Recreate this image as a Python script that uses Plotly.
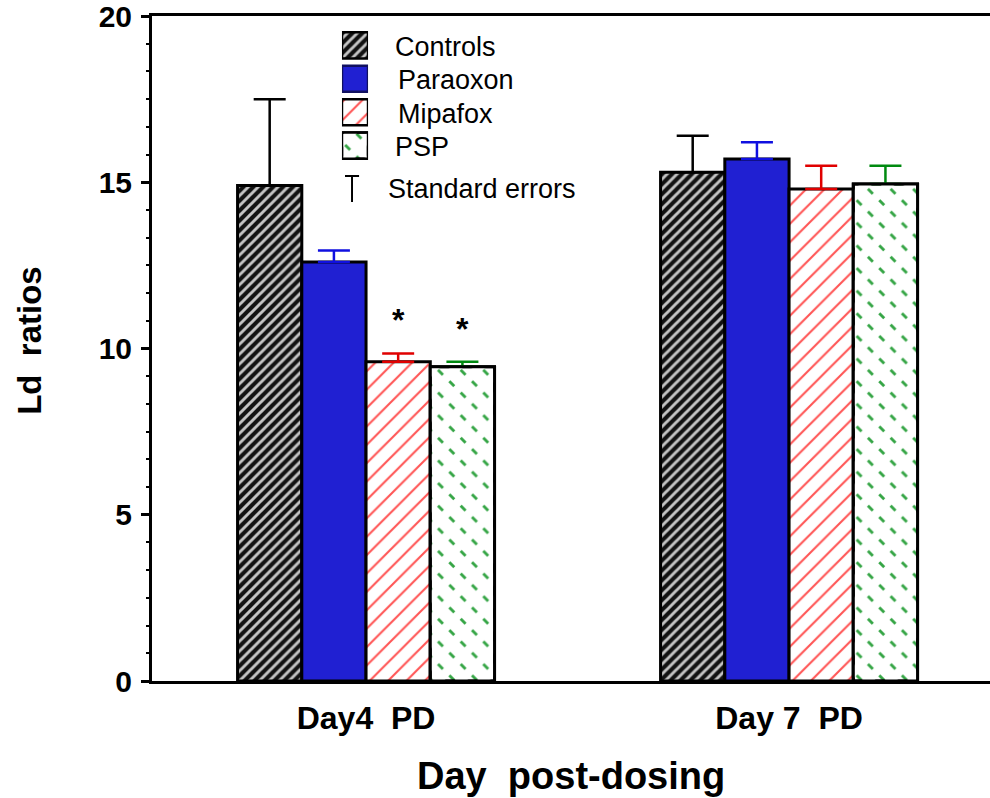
import plotly.graph_objects as go

# ---- data -------------------------------------------------------------
groups = ["Day4\u00a0\u00a0PD", "Day\u00a07\u00a0\u00a0PD"]
series = ["Controls", "Paraoxon", "Mipafox", "PSP"]
controls = [14.9, 15.3]
controls_se = [2.6, 1.1]
paraoxon = [12.6, 15.7]
paraoxon_se = [0.35, 0.5]
mipafox = [9.6, 14.8]
mipafox_se = [0.25, 0.7]
psp = [9.45, 14.95]
psp_se = [0.15, 0.55]
significant = [(2, 0), (3, 0)]  # (series index, group index) marked with *

# ---- styles -----------------------------------------------------------
FONT = "Liberation Sans, Arial, sans-serif"
BAR_W = 0.6075 / 4
LINE_W = 3
styles = [
    dict(pattern=dict(shape="/", fgcolor="#c4c4c4", bgcolor="#111111", size=7, solidity=0.42, fillmode="replace"),
         err="#000000"),
    dict(pattern=None, color="#2020d2", err="#1010e0"),
    dict(pattern=dict(shape="/", fgcolor="#ff5555", bgcolor="white", size=13, solidity=0.16, fillmode="replace"),
         err="#e00000"),
    dict(pattern=dict(shape="\\", fgcolor="#35a545", bgcolor="white", size=16, solidity=0.18, fillmode="replace"),
         err="#008a10"),
]
# white diagonal pattern laid over the PSP fill breaks its lines into dashes
cutter = dict(shape="/", fgcolor="white", bgcolor="rgba(0,0,0,0)", size=16, solidity=0.56, fillmode="replace")

values = [controls, paraoxon, mipafox, psp]
errors = [controls_se, paraoxon_se, mipafox_se, psp_se]

fig = go.Figure()
for i, (name, vals, se, st) in enumerate(zip(series, values, errors, styles)):
    marker = dict(line=dict(color="black", width=LINE_W))
    if st["pattern"] is None:
        marker["color"] = st["color"]
    else:
        marker["color"] = st["pattern"]["bgcolor"]
        marker["pattern"] = st["pattern"]
    fig.add_trace(go.Bar(
        x=[0, 1], y=vals, name=name, width=BAR_W, offset=(i - 2) * BAR_W,
        marker=marker, showlegend=False,
        error_y=dict(type="data", array=se, arrayminus=[0] * len(se), symmetric=False,
                     color=st["err"], thickness=2.5, width=16),
    ))
    if name == "PSP":
        fig.add_trace(go.Bar(
            x=[0, 1], y=vals, width=BAR_W, offset=(i - 2) * BAR_W, showlegend=False,
            marker=dict(color="rgba(0,0,0,0)", pattern=cutter, line=dict(color="black", width=LINE_W)),
            hoverinfo="skip",
        ))

# legend swatches drawn on a small inset axis
for i, st in enumerate(styles):
    marker = dict(line=dict(color="black", width=2.5))
    if st["pattern"] is None:
        marker["color"] = st["color"]
        marker["line"]["color"] = "#101060"
    else:
        marker["color"] = st["pattern"]["bgcolor"]
        marker["pattern"] = st["pattern"]
    fig.add_trace(go.Bar(x=[0], y=[0.78], base=[i - 0.39], width=[1], xaxis="x2", yaxis="y2",
                         marker=marker, showlegend=False, hoverinfo="skip"))
    if series[i] == "PSP":
        fig.add_trace(go.Bar(x=[0], y=[0.78], base=[i - 0.39], width=[1], xaxis="x2", yaxis="y2",
                             marker=dict(color="rgba(0,0,0,0)", pattern=cutter,
                                         line=dict(color="black", width=2.5)),
                             showlegend=False, hoverinfo="skip"))

annotations = []
label_x = [0.2876, 0.2912, 0.2912, 0.2876]
for i, name in enumerate(series):
    annotations.append(dict(x=label_x[i], y=i + 0.05, xref="paper", yref="y2", text=name, showarrow=False,
                            xanchor="left", yanchor="middle", font=dict(family=FONT, size=27, color="black")))
annotations.append(dict(x=0.2792, y=0.7405, xref="paper", yref="paper", text="Standard\u00a0errors",
                        showarrow=False, xanchor="left", yanchor="middle",
                        font=dict(family=FONT, size=27, color="black")))

for s_idx, g_idx in significant:
    top = values[s_idx][g_idx] + errors[s_idx][g_idx]
    annotations.append(dict(x=g_idx + (s_idx - 1.5) * BAR_W, y=top, xref="x", yref="y", text="*",
                            showarrow=False, yanchor="bottom", yshift=13,
                            font=dict(family=FONT, size=32, color="black", weight="bold")))

annotations.append(dict(x=0.5, y=-0.143, xref="paper", yref="paper", text="Day\u00a0\u00a0post-dosing",
                        showarrow=False, xanchor="center", yanchor="middle",
                        font=dict(family=FONT, size=38, color="black", weight="bold")))
annotations.append(dict(x=-0.1456, y=0.513, xref="paper", yref="paper", text="Ld\u00a0\u00a0ratios",
                        showarrow=False, xanchor="center", yanchor="middle", textangle=-90,
                        font=dict(family=FONT, size=33, color="black", weight="bold")))

shapes = [
    dict(type="line", xref="paper", yref="paper", x0=0.2387, x1=0.2387, y0=0.7203, y1=0.7594,
         line=dict(color="black", width=2)),
    dict(type="line", xref="paper", yref="paper", x0=0.2303, x1=0.2471, y0=0.7594, y1=0.7594,
         line=dict(color="black", width=2)),
]

fig.update_layout(
    width=990, height=798,
    margin=dict(l=152, r=0, t=16, b=117),
    paper_bgcolor="white", plot_bgcolor="white",
    barmode="overlay",
    showlegend=False,
    font=dict(family=FONT, color="black"),
    xaxis=dict(range=[-0.506, 1.475], tickvals=[0, 1], ticktext=groups, ticks="",
               showline=True, linecolor="black", linewidth=LINE_W, mirror=True,
               showgrid=False, zeroline=False, ticklabelstandoff=7,
               tickfont=dict(family=FONT, size=32, color="black", weight="bold")),
    yaxis=dict(range=[0, 20], tickvals=[0, 5, 10, 15, 20], ticks="outside", ticklen=8,
               tickwidth=2.5, tickcolor="black", showline=True, linecolor="black",
               linewidth=LINE_W, mirror=False, showgrid=False, zeroline=False,
               ticklabelstandoff=3, ticklabeloverflow="allow",
               minor=dict(dtick=5 / 6, ticks="outside", ticklen=3, tickwidth=2, tickcolor="black"),
               tickfont=dict(family=FONT, size=30, color="black", weight="bold")),
    xaxis2=dict(domain=[0.2267, 0.2578], range=[-0.5, 0.5], visible=False, anchor="y2", fixedrange=True),
    yaxis2=dict(domain=[0.780, 0.981], range=[3.5, -0.5], visible=False, anchor="x2", fixedrange=True),
    annotations=annotations,
    shapes=shapes,
)

fig.write_html("out.html")
